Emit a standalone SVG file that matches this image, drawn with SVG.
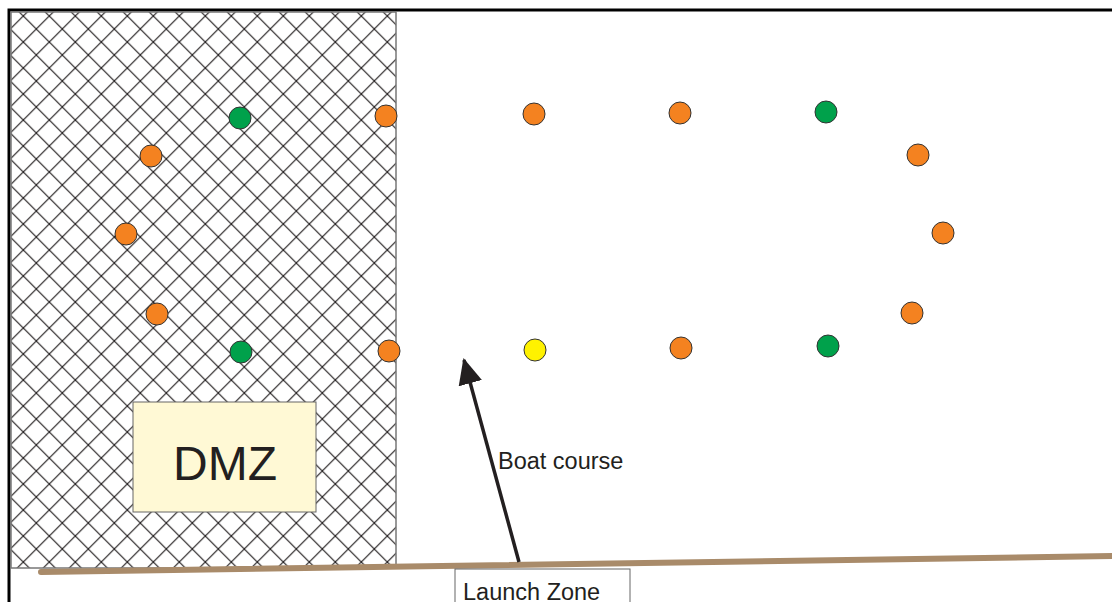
<svg xmlns="http://www.w3.org/2000/svg" width="1112" height="602" viewBox="0 0 1112 602">
<style>
.buoy{stroke:#333;stroke-width:1}
.o{fill:#f48220}.g{fill:#00a14b}.y{fill:#fff200}
.lbl{font-family:"Liberation Sans",Arial,sans-serif;fill:#231f20}
</style>
<defs>
<pattern id="hatch" patternUnits="userSpaceOnUse" x="-2.7" y="16" width="26" height="26">
<path d="M0,0L26,26M26,0L0,26" stroke="#231f20" stroke-width="1.2" fill="none"/>
</pattern>
<marker id="ah" markerUnits="userSpaceOnUse" viewBox="0 0 26 24" refX="24" refY="12" markerWidth="26" markerHeight="24" orient="auto">
<path d="M0,0L26,12L0,24Z" fill="#231f20"/>
</marker>
</defs>
<rect width="1112" height="602" fill="#fff"/>
<g id="frame">
<path d="M9,602V10H1112" fill="none" stroke="#000" stroke-width="3"/>
</g>
<g id="dmz-zone">
<rect x="11" y="12" width="385" height="556" fill="url(#hatch)" stroke="#777" stroke-width="1.5"/>
</g>
<g id="shore">
<line x1="41" y1="572" x2="1112" y2="556" stroke="#a98b6a" stroke-width="6" stroke-linecap="round"/>
</g>
<g id="dmz">
<rect x="133" y="402" width="183" height="110" fill="#fff9d5" stroke="#666" stroke-width="1"/>
<text class="lbl" x="225" y="480" font-size="48" text-anchor="middle">DMZ</text>
</g>
<g id="buoys">
<circle class="buoy o" cx="386" cy="116" r="11"/>
<circle class="buoy o" cx="534" cy="114" r="11"/>
<circle class="buoy o" cx="680" cy="113" r="11"/>
<circle class="buoy g" cx="826" cy="112" r="11"/>
<circle class="buoy o" cx="918" cy="155" r="11"/>
<circle class="buoy o" cx="943" cy="233" r="11"/>
<circle class="buoy o" cx="912" cy="313" r="11"/>
<circle class="buoy g" cx="828" cy="346" r="11"/>
<circle class="buoy o" cx="681" cy="348" r="11"/>
<circle class="buoy y" cx="535" cy="350" r="11"/>
<circle class="buoy o" cx="389" cy="351" r="11"/>
<circle class="buoy g" cx="241" cy="352" r="11"/>
<circle class="buoy o" cx="157" cy="314" r="11"/>
<circle class="buoy o" cx="126" cy="234" r="11"/>
<circle class="buoy o" cx="151" cy="156" r="11"/>
<circle class="buoy g" cx="240" cy="118" r="11"/>
</g>
<g id="connectors">
<line x1="519" y1="562" x2="464" y2="360" stroke="#231f20" stroke-width="3.5" marker-end="url(#ah)"/>
</g>
<g id="boat-course-label">
<text class="lbl" x="498" y="469" font-size="23.5">Boat course</text>
</g>
<g id="launch-zone">
<rect x="455" y="569" width="175" height="40" fill="#fff" stroke="#666" stroke-width="1"/>
<text class="lbl" x="463" y="600" font-size="23.5">Launch Zone</text>
</g>
</svg>
